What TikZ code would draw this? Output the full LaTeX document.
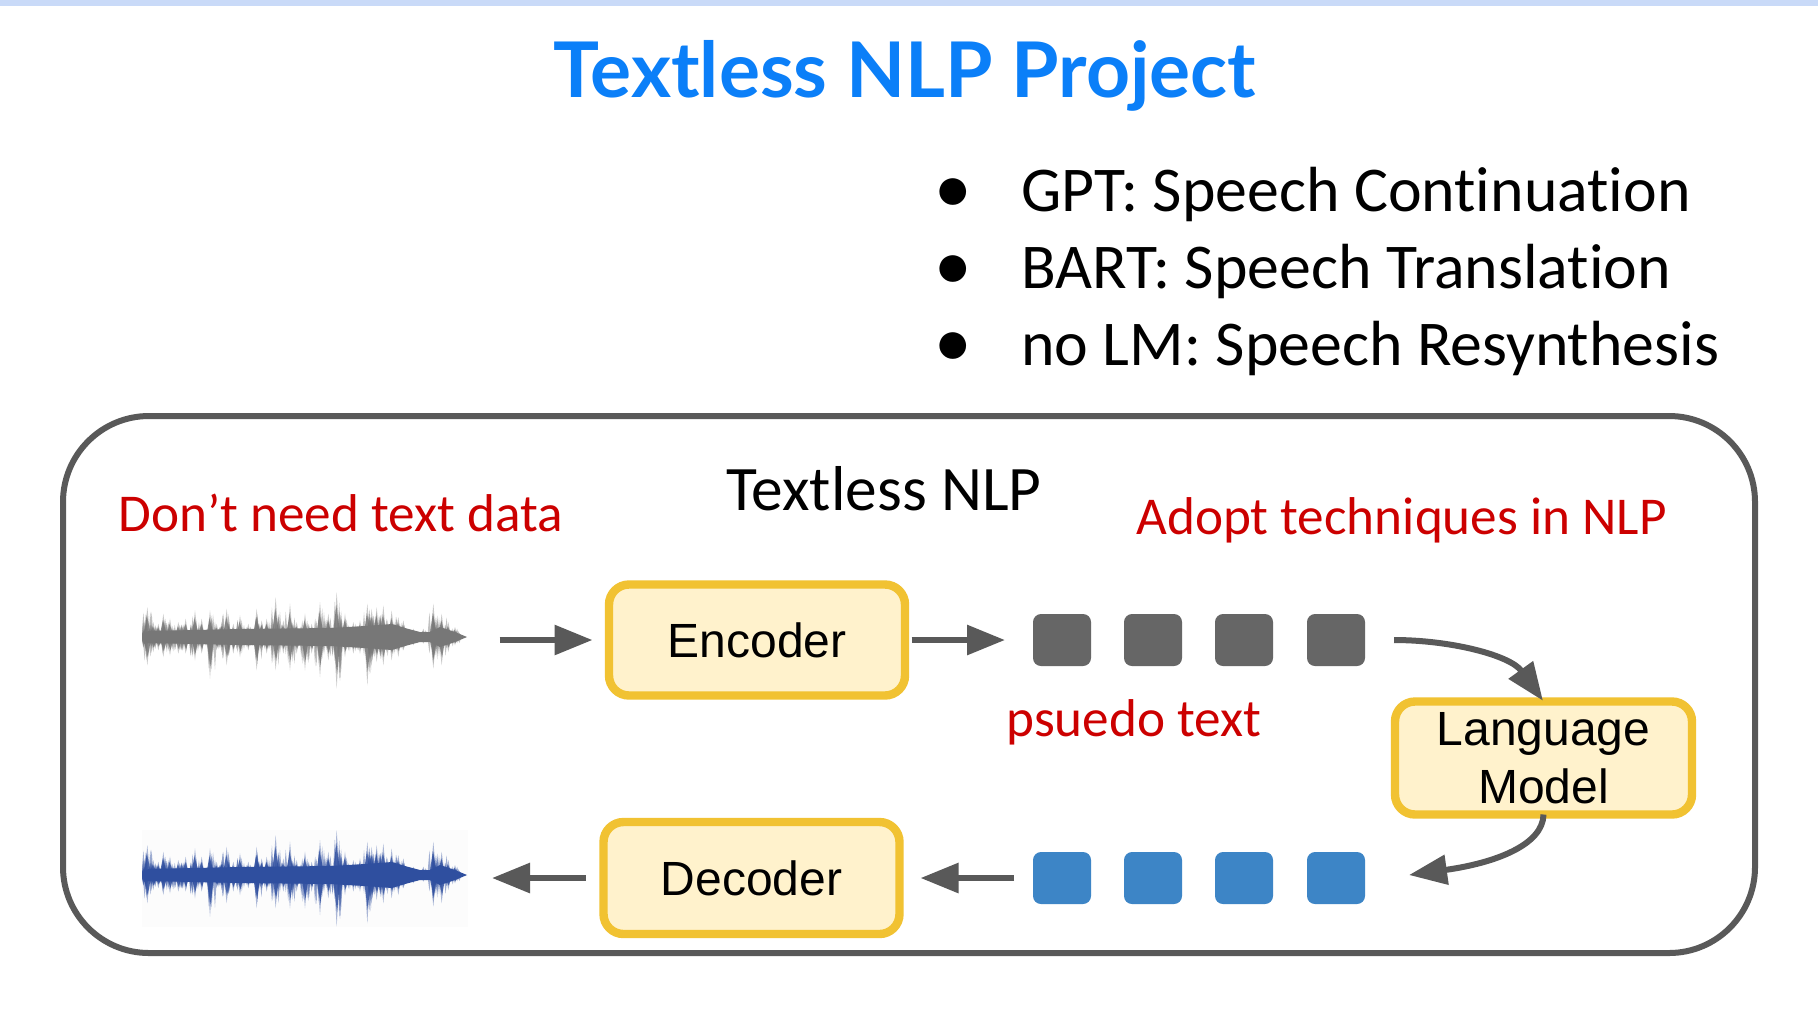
\documentclass[tikz,border=0pt]{standalone}
\usepackage{fontspec}
\setmainfont{Carlito}
\newfontfamily\titlefont{Lato}
\newfontfamily\arialfont{Liberation Sans}
\newfontfamily\bodyfont[Ligatures=NoCommon]{Carlito}
\usetikzlibrary{arrows.meta}
\definecolor{titleblue}{HTML}{0B7FF8}
\definecolor{topbar}{HTML}{C9DAF8}
\definecolor{frameg}{HTML}{595959}
\definecolor{tokg}{HTML}{666666}
\definecolor{tokb}{HTML}{3D85C6}
\definecolor{boxedge}{HTML}{F1C232}
\definecolor{boxfill}{HTML}{FFF2CC}
\definecolor{redtxt}{HTML}{CC0000}
\definecolor{wavegray}{HTML}{777777}
\definecolor{waveblue}{HTML}{2F4F9F}
\tikzset{
  x=0.5pt,y=-0.5pt,
  modulebox/.style={draw=boxedge,fill=boxfill,line width=4.2pt,rounded corners=10pt,inner sep=0pt,outer sep=0pt,align=center,font=\arialfont\fontsize{24}{29}\selectfont},
  token/.style={rounded corners=4pt,minimum width=29pt,minimum height=26pt,inner sep=0pt,outer sep=0pt},
  tokgray/.style={token,fill=tokg},
  tokblue/.style={token,fill=tokb},
  flow/.style={draw=frameg,line width=3pt,-{Triangle[length=19pt,width=14.5pt]}},
  bullettext/.style={anchor=base west,inner sep=0pt,font=\bodyfont\fontsize{31.9}{36}\selectfont},
  bulletmark/.style={anchor=base west,inner sep=0pt,font=\arialfont\fontsize{31}{34}\selectfont},
  redlabel/.style={anchor=base west,inner sep=0pt,text=redtxt,font=\bodyfont\fontsize{26.6}{30}\selectfont},
  waveslot/.style={minimum width=162.5pt,minimum height=50pt,inner sep=0pt,outer sep=0pt},
}
% #1 centre y, #2 colour
\newcommand{\wavedraw}[2]{%
  \begin{scope}
  \clip (142,#1-60) rectangle (468,#1+60);
  \pgfmathsetseed{4711}%
  \foreach \zx/\up/\dn in {72/25/30,82/90/85,100/45/45,115/40/40,130/70/60,150/55/55,175/45/50,197/55/50,225/80/70,245/55/50,270/80/125,290/40/40,305/45/45,320/85/85,340/40/50,360/65/60,385/40/40,410/85/100,425/50/45,440/55/50,467/120/100,490/50/50,510/100/100,530/45/50,555/70/100,575/40/50,600/105/120,625/70/70,650/135/155,675/70/60,700/45/50,720/50/50,742/100/145,755/85/85,770/90/75,790/95/85,815/80/70,835/60/60,850/50/40,880/25/25,910/25/20,940/100/95,965/70/85,985/45/45,1005/30/25}{%
    \pgfmathsetmacro{\cx}{120+\zx/3}%
    \fill[#2,opacity=.4] (\cx-3,#1) -- (\cx,#1-\up/3) -- (\cx+3,#1) -- (\cx,#1+\dn/3) -- cycle;
    \fill[#2,opacity=.8] (\cx-4,#1) -- (\cx-.4,#1-\up/4.2) -- (\cx+4,#1) -- (\cx+.4,#1+\dn/4.2) -- cycle;
    \foreach \j in {1,...,7}{%
      \pgfmathsetmacro{\ox}{rnd*10-5}%
      \pgfmathsetmacro{\ha}{.35+.5*rnd}%
      \pgfmathsetmacro{\hb}{.35+.5*rnd}%
      \fill[#2,opacity=.45] (\cx+\ox-2,#1) -- (\cx+\ox,#1-\up/3*\ha) -- (\cx+\ox+2,#1) -- (\cx+\ox,#1+\dn/3*\hb) -- cycle;
    }
  }
  \end{scope}
  \fill[#2] (142,#1) -- (148,#1-6) -- (240,#1-8) -- (330,#1-9) -- (365,#1-11) -- (392,#1-13) -- (405,#1-9) -- (420,#1-5) -- (430,#1-5) -- (440,#1-10) -- (455,#1-5) -- (467,#1)
     -- (455,#1+5) -- (440,#1+10) -- (430,#1+5) -- (420,#1+5) -- (405,#1+9) -- (392,#1+13) -- (365,#1+11) -- (330,#1+9) -- (240,#1+8) -- (148,#1+6) -- cycle;
}
\begin{document}
\begin{tikzpicture}
\useasboundingbox (0,0) rectangle (1818,1014);
\fill[white] (0,0) rectangle (1818,1014);
\fill[topbar] (0,0) rectangle (1818,6);

\node[inner sep=0pt,anchor=base,text=titleblue] (title) at (905,97) {\titlefont\bfseries\fontsize{38.4}{44}\selectfont Textless NLP Project};

\node[bulletmark] (b1bul) at (934,209.5) {●};
\node[bulletmark] (b2bul) at (934,286.5) {●};
\node[bulletmark] (b3bul) at (934,363) {●};
\node[bullettext] (b1) at (1021,211) {GPT: Speech Continuation};
\node[bullettext] (b2) at (1021,288) {BART: Speech Translation};
\node[bullettext] (b3) at (1021,365) {no LM: Speech Resynthesis};

\draw[draw=frameg,line width=3pt,rounded corners=43pt] (63,416) rectangle (1755,953);

\node[anchor=base,inner sep=0pt,font=\bodyfont\fontsize{31.7}{36}\selectfont] (lab) at (884,510) {Textless NLP};
\node[redlabel] (dont) at (118,531) {Don’t need text data};
\node[redlabel] (adopt) at (1136,534) {Adopt techniques in NLP};
\node[redlabel] (pseudo) at (1006,736) {psuedo text};

\wavedraw{637}{wavegray}
\fill[black!1] (142,830) rectangle (468,927);
\wavedraw{875}{waveblue}
\node[waveslot] (wave1) at (305,640) {};
\node[waveslot] (wave2) at (305,878) {};

\node[modulebox,minimum width=148pt,minimum height=55.5pt] (enc) at (757,640) {Encoder};
\node[modulebox,minimum width=148pt,minimum height=56pt] (dec) at (751.5,878) {Decoder};
\node[modulebox,minimum width=148.5pt,minimum height=56.5pt] (lm) at (1543.5,758) {Language\\Model};

\node[tokgray] (g1) at (1062,640) {};
\node[tokgray] (g2) at (1153,640) {};
\node[tokgray] (g3) at (1244,640) {};
\node[tokgray] (g4) at (1336,640) {};
\node[tokblue] (u1) at (1062,878) {};
\node[tokblue] (u2) at (1153,878) {};
\node[tokblue] (u3) at (1244,878) {};
\node[tokblue] (u4) at (1336,878) {};

\draw[flow,shorten <=16pt,shorten >=8.25pt] (wave1.east) -- (enc.west);
\draw[flow,shorten <=3.25pt,shorten >=14pt] (enc.east) -- (g1.west);
\draw[flow,shorten <=14.5pt,shorten >=0.5pt] (g4.east) .. controls (1450,640) and (1510,655) .. (lm.north);
\coordinate (lmout) at (1409,875);
\draw[flow] (lm.south) .. controls (1543,845) and (1495,863) .. (lmout);
\draw[flow,shorten <=9.5pt,shorten >=10.5pt] (u1.west) -- (dec.east);
\draw[flow,shorten <=9pt,shorten >=12.25pt] (dec.west) -- (wave2.east);
\end{tikzpicture}
\end{document}
